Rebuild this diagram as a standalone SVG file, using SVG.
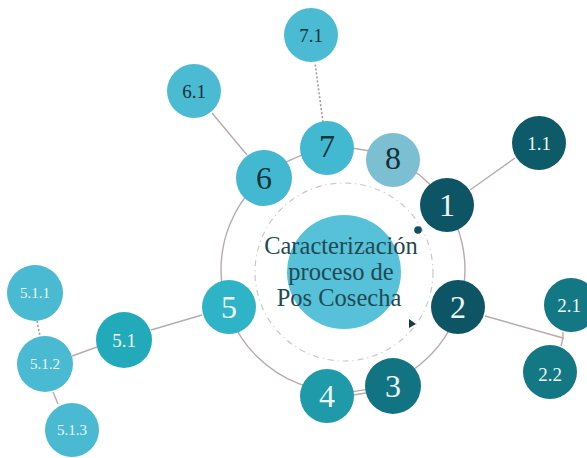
<svg xmlns="http://www.w3.org/2000/svg" width="587" height="458" viewBox="0 0 587 458">
<style>
.n{stroke:none}
.t{font-family:"Liberation Serif","DejaVu Serif",serif;text-anchor:middle;dominant-baseline:central}
.big{font-size:32px}
.mid{font-size:19px}
.sm{font-size:15px}
.dk{fill:#16303a}
.lt{fill:#eef7f8}
.ln{stroke:#b7abab;stroke-width:1.4;fill:none}
.dot{stroke:#a59a9a;stroke-width:1.6;stroke-dasharray:2 2;fill:none}
.ct{font-size:24.5px;fill:#1f4a52}
</style>
<rect width="587" height="458" fill="#ffffff"/>
<g id="connectors">
<circle class="ln" cx="343" cy="270" r="122"/>
<circle cx="344" cy="272" r="89" fill="none" stroke="#c9c9c9" stroke-width="1.2" stroke-dasharray="6 4 1 4"/>
<line class="ln" x1="470" y1="190" x2="515" y2="158"/>
<line class="dot" x1="323" y1="122" x2="315" y2="63"/>
<line class="ln" x1="212" y1="113" x2="247" y2="155"/>
<line class="ln" x1="202" y1="315" x2="151" y2="330"/>
<line class="ln" x1="97" y1="347" x2="72" y2="356"/>
<line class="dot" x1="37" y1="321" x2="40" y2="336"/>
<line class="ln" x1="53" y1="392" x2="58" y2="404"/>
<polyline class="ln" points="485,316 563,338 563,332"/>
<line class="ln" x1="563" y1="338" x2="561" y2="346"/>
<line class="ln" x1="353" y1="395" x2="366" y2="393"/>
<circle cx="418" cy="230" r="3.8" fill="#0f4f5e"/>
<polygon points="409,319 416,324 409,328" fill="#163a44"/>
</g>
<g id="center">
<circle cx="344" cy="272" r="57" fill="#57c1d9"/>
<text class="t ct" x="341" y="245">Caracterización</text>
<text class="t ct" x="341" y="271">proceso de</text>
<text class="t ct" x="339" y="297">Pos Cosecha</text>
</g>
<g id="n1"><circle class="n" cx="447" cy="205" r="27" fill="#0d5565"/><text class="t big lt" x="447" y="205">1</text></g>
<g id="n1_1"><circle class="n" cx="539" cy="143" r="27" fill="#0d5a69"/><text class="t mid lt" x="539" y="143">1.1</text></g>
<g id="n2"><circle class="n" cx="458" cy="307" r="27" fill="#0d5565"/><text class="t big lt" x="458" y="307">2</text></g>
<g id="n2_1"><circle class="n" cx="571" cy="305" r="27" fill="#137784"/><text class="t mid lt" x="569" y="305">2.1</text></g>
<g id="n2_2"><circle class="n" cx="550" cy="372" r="27" fill="#137784"/><text class="t mid lt" x="550" y="374">2.2</text></g>
<g id="n3"><circle class="n" cx="393" cy="386" r="28" fill="#127483"/><text class="t big lt" x="393" y="386">3</text></g>
<g id="n4"><circle class="n" cx="327" cy="396" r="27" fill="#1e9aa8"/><text class="t big lt" x="327" y="396">4</text></g>
<g id="n5"><circle class="n" cx="229" cy="307" r="27" fill="#2fb4c7"/><text class="t big lt" x="229" y="307">5</text></g>
<g id="n5_1"><circle class="n" cx="124" cy="340" r="28" fill="#22aabb"/><text class="t mid lt" x="124" y="340">5.1</text></g>
<g id="n5_1_1"><circle class="n" cx="35" cy="293" r="28" fill="#4ab9d2"/><text class="t sm lt" x="35" y="293">5.1.1</text></g>
<g id="n5_1_2"><circle class="n" cx="45" cy="364" r="28" fill="#4ab9d2"/><text class="t sm lt" x="45" y="364">5.1.2</text></g>
<g id="n5_1_3"><circle class="n" cx="72" cy="430" r="27" fill="#4ab9d2"/><text class="t sm lt" x="72" y="430">5.1.3</text></g>
<g id="n6"><circle class="n" cx="264" cy="178" r="28" fill="#42b8d1"/><text class="t big dk" x="264" y="178">6</text></g>
<g id="n6_1"><circle class="n" cx="194" cy="91" r="27" fill="#4abbd3"/><text class="t mid dk" x="194" y="91">6.1</text></g>
<g id="n7"><circle class="n" cx="327" cy="148" r="27" fill="#42b8d1"/><text class="t big dk" x="327" y="146">7</text></g>
<g id="n7_1"><circle class="n" cx="311" cy="35" r="27" fill="#4abbd3"/><text class="t mid dk" x="311" y="35">7.1</text></g>
<g id="n8"><circle class="n" cx="393" cy="160" r="27" fill="#7cbfd2"/><text class="t big dk" x="393" y="158">8</text></g>
</svg>
